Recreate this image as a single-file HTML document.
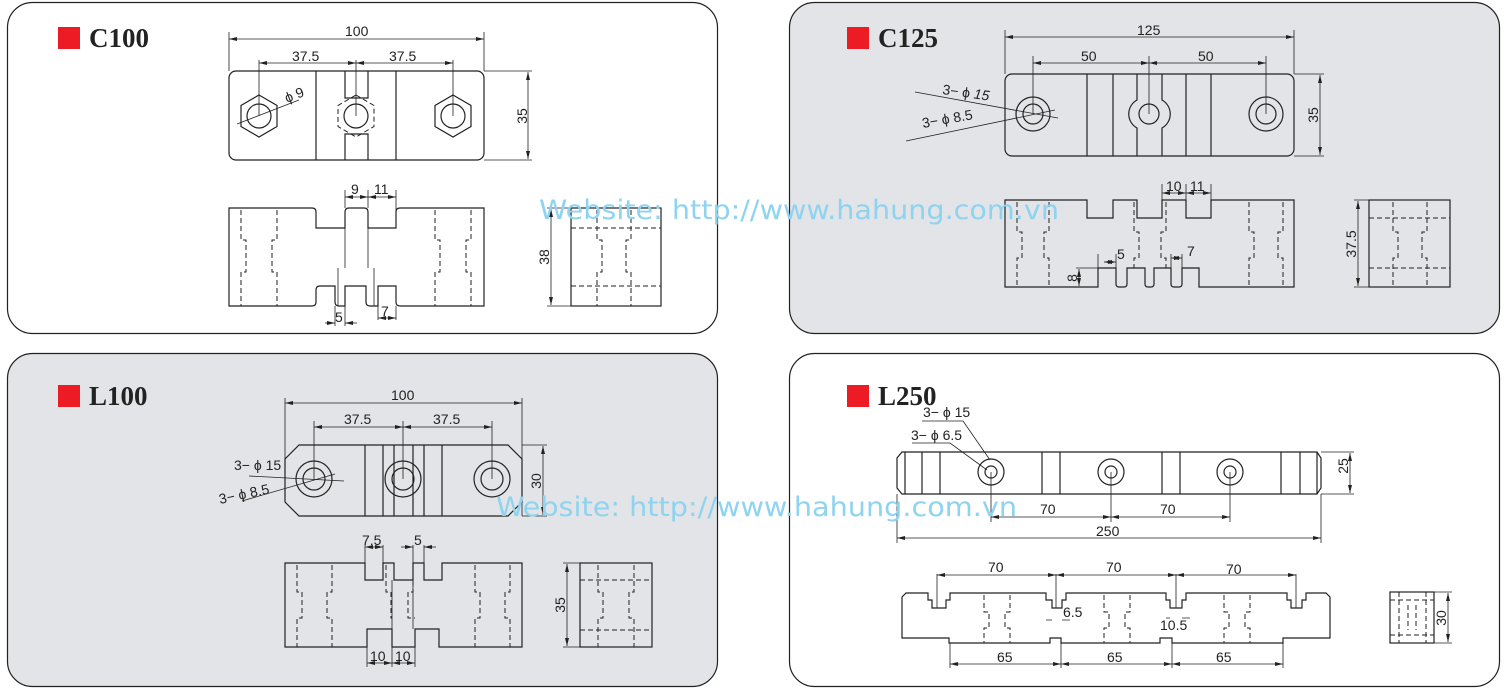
<!DOCTYPE html>
<html><head><meta charset="utf-8"><style>
html,body{margin:0;padding:0;background:#fff;}
svg{display:block;}
text{font-family:"Liberation Sans",sans-serif;font-size:14px;fill:#222;}
.t{font-family:"Liberation Serif",serif;font-weight:bold;font-size:27px;fill:#222;}
.wm{font-family:"DejaVu Sans","Liberation Sans",sans-serif;font-size:27px;fill:#8ed3ef;}
.o{fill:none;stroke:#222;stroke-width:1.2;}
.d{fill:none;stroke:#222;stroke-width:1;stroke-dasharray:5,3;}
.l{fill:none;stroke:#222;stroke-width:0.8;}
.a{fill:none;stroke:#222;stroke-width:0.8;marker-start:url(#ar);marker-end:url(#ar);}
</style></head><body>
<svg width="1505" height="697" viewBox="0 0 1505 697" xmlns="http://www.w3.org/2000/svg">
<defs><marker id="ar" viewBox="0 0 8 4" refX="8" refY="2" markerWidth="8" markerHeight="4" markerUnits="userSpaceOnUse" orient="auto-start-reverse"><path d="M0,0L8,2L0,4z" fill="#222"/></marker></defs>

<!-- panels -->
<rect x="7.5" y="2.5" width="710" height="331" rx="25" fill="#fff" stroke="#222" stroke-width="1.2"/>
<rect x="789.5" y="2.5" width="710" height="331" rx="25" fill="#e2e4e7" stroke="#222" stroke-width="1.2"/>
<rect x="7.5" y="353.5" width="710" height="333" rx="25" fill="#e2e4e7" stroke="#222" stroke-width="1.2"/>
<rect x="789.5" y="353.5" width="710" height="333" rx="25" fill="#fff" stroke="#222" stroke-width="1.2"/>

<rect x="58" y="27" width="22" height="22" fill="#ed1c24"/><text class="t" x="89" y="47">C100</text>
<rect x="847" y="27" width="22" height="22" fill="#ed1c24"/><text class="t" x="878" y="47">C125</text>
<rect x="58" y="385" width="22" height="22" fill="#ed1c24"/><text class="t" x="89" y="405">L100</text>
<rect x="847" y="385" width="22" height="22" fill="#ed1c24"/><text class="t" x="878" y="405">L250</text>

<!-- ========== C100 ========== -->
<rect class="o" x="229" y="71" width="255" height="89" rx="7"/>
<path class="o" d="M316,71V160M396,71V160M345,71V98H368V71M345,160V134H368V160"/>
<polygon class="o" points="259,95 277,105.5 277,126.5 259,137 241,126.5 241,105.5"/>
<circle class="o" cx="259" cy="116" r="12"/>
<polygon class="d" points="356,95 374,105.5 374,126.5 356,137 338,126.5 338,105.5"/>
<circle class="o" cx="356" cy="116" r="12"/>
<polygon class="o" points="453,95 471,105.5 471,126.5 453,137 435,126.5 435,105.5"/>
<circle class="o" cx="453" cy="116" r="12"/>
<path class="l" d="M229,32V71M484,32V71M259,60V116M356,60V116M453,60V116M484,71H532M484,160H532M237,124L299,100"/>
<line class="a" x1="229" y1="39" x2="484" y2="39"/>
<line class="a" x1="259" y1="63" x2="356" y2="63"/><line class="a" x1="356" y1="63" x2="453" y2="63"/>
<line class="a" x1="528" y1="72" x2="528" y2="159"/>
<text x="345" y="36">100</text><text x="292" y="61">37.5</text><text x="389" y="61">37.5</text>
<text transform="translate(527,116) rotate(-90)" text-anchor="middle">35</text>
<text transform="translate(287,103) rotate(-22)">ϕ 9</text>
<!-- front -->
<path class="o" d="M229,208H312Q316,208 316,212V228H345V212Q345,208 349,208H364Q368,208 368,212V228H396V212Q396,208 400,208H484V306H400Q396,306 396,302V286H378V306H370Q366,306 366,302V286H345V306H339Q335,306 335,302V286H320Q316,286 316,290V302Q316,306 312,306H229Z"/>
<path class="l" d="M368,212V268M345,228V268M338,268V306M374,268V306"/>
<path class="d" d="M241,210V240H246V272H241V306M277,210V240H272V272H277V306M435,210V240H440V272H435V306M471,210V240H466V272H471V306"/>
<path class="l" d="M345,190V208M368,190V208M396,190V212M335,306V326M345,306V326M378,306V320M396,306V320"/>
<line class="a" x1="345" y1="197" x2="368" y2="197"/><line class="a" x1="368" y1="197" x2="396" y2="197"/>
<line class="a" x1="325" y1="323" x2="335" y2="323" style="marker-start:none"/><line class="a" x1="345" y1="323" x2="357" y2="323" style="marker-end:none"/>
<line class="a" x1="378" y1="318" x2="396" y2="318"/>
<text x="351" y="194">9</text><text x="374" y="194">11</text><text x="335" y="322">5</text><text x="381" y="316">7</text>
<rect class="o" x="571" y="208" width="90" height="98"/>
<path class="d" d="M571,228H661M571,286H661M597,210V240H602V272H597V306M631,210V240H626V272H631V306"/>
<path class="l" d="M547,208H571M547,306H571"/>
<line class="a" x1="551" y1="209" x2="551" y2="305"/>
<text transform="translate(549,257) rotate(-90)" text-anchor="middle">38</text>

<!-- ========== C125 ========== -->
<rect class="o" x="1005" y="74" width="289" height="82" rx="7"/>
<path class="o" d="M1087,74V156M1113,74V156M1186,74V156M1211,74V156M1137,74V100A16,16 0 0 0 1137,128V156M1162,74V100A16,16 0 0 1 1162,128V156"/>
<circle class="o" cx="1033" cy="114" r="17"/><circle class="o" cx="1033" cy="114" r="10"/>
<circle class="o" cx="1149" cy="114" r="10"/>
<circle class="o" cx="1266" cy="114" r="17"/><circle class="o" cx="1266" cy="114" r="10"/>
<path class="l" d="M1005,30V74M1294,30V74M1033,56V114M1149,56V114M1266,56V114M1294,74H1324M1294,156H1324M915,92L1058,118M906,141L1055,110"/>
<line class="a" x1="1005" y1="37" x2="1294" y2="37"/>
<line class="a" x1="1033" y1="63" x2="1149" y2="63"/><line class="a" x1="1149" y1="63" x2="1266" y2="63"/>
<line class="a" x1="1320" y1="75" x2="1320" y2="155"/>
<text x="1137" y="35">125</text><text x="1081" y="61">50</text><text x="1198" y="61">50</text>
<text transform="translate(1318,115) rotate(-90)" text-anchor="middle">35</text>
<text transform="translate(942,94) rotate(8)">3− ϕ <tspan font-style="italic">15</tspan></text>
<text transform="translate(923,128) rotate(-10)">3− ϕ 8.5</text>
<!-- front -->
<path class="o" d="M1005,200H1087V218H1113V200H1137V218H1162V200H1186V218H1211V200H1294V287H1199V268H1182V284Q1182,287 1179,287H1174Q1171,287 1171,284V268H1154V284Q1154,287 1151,287H1148Q1145,287 1145,284V268H1127V284Q1127,287 1124,287H1119Q1116,287 1116,284V268H1098V287H1005Z"/>
<path class="d" d="M1017,202V232H1022V258H1017V287M1049,202V232H1044V258H1049V287M1134,202V232H1139V258H1134V268M1166,202V232H1161V258H1166V268M1249,202V232H1254V258H1249V287M1283,202V232H1278V258H1283V287"/>
<path class="l" d="M1162,184V200M1186,184V200M1211,184V200M1116,254V268M1098,254V268M1171,254V268M1182,254V268M1076,268H1098M1076,287H1098"/>
<line class="a" x1="1162" y1="193" x2="1186" y2="193"/><line class="a" x1="1186" y1="193" x2="1211" y2="193"/>
<line class="a" x1="1104" y1="262" x2="1116" y2="262"/><line class="a" x1="1171" y1="258" x2="1182" y2="258"/>
<line class="a" x1="1079" y1="269" x2="1079" y2="286"/>
<text x="1166" y="191">10</text><text x="1190" y="191">11</text><text x="1117" y="259">5</text><text x="1187" y="256">7</text>
<text transform="translate(1077,278) rotate(-90)" text-anchor="middle">8</text>
<rect class="o" x="1369" y="200" width="81" height="87"/>
<path class="d" d="M1369,218H1450M1369,268H1450M1393,202V232H1398V258H1393V287M1427,202V232H1422V258H1427V287"/>
<path class="l" d="M1354,200H1369M1354,287H1369"/>
<line class="a" x1="1358" y1="201" x2="1358" y2="286"/>
<text transform="translate(1356,244) rotate(-90)" text-anchor="middle">37.5</text>

<!-- ========== L100 ========== -->
<polygon class="o" points="299,445 508,445 522,459 522,502 508,516 299,516 285,502 285,459"/>
<path class="o" d="M365,445V516M383,445V516M394,445V516M413,445V516M424,445V516M442,445V516"/>
<circle class="o" cx="314" cy="479" r="18"/><circle class="o" cx="314" cy="479" r="11"/>
<circle class="o" cx="403" cy="479" r="18"/><circle class="o" cx="403" cy="479" r="11"/>
<circle class="o" cx="492" cy="479" r="18"/><circle class="o" cx="492" cy="479" r="11"/>
<path class="l" d="M285,398V459M522,398V516M314,421V479M403,421V479M492,421V479M522,445H547M522,516H547M249,476L344,481M242,501L335,474"/>
<line class="a" x1="285" y1="403" x2="522" y2="403"/>
<line class="a" x1="314" y1="427" x2="403" y2="427"/><line class="a" x1="403" y1="427" x2="492" y2="427"/>
<line class="a" x1="543" y1="446" x2="543" y2="515"/>
<text x="391" y="400">100</text><text x="344" y="424">37.5</text><text x="433" y="424">37.5</text>
<text transform="translate(541,481) rotate(-90)" text-anchor="middle">30</text>
<text x="234" y="470">3− ϕ 15</text>
<text transform="translate(220,504) rotate(-12)">3− ϕ 8.5</text>
<!-- front -->
<path class="o" d="M285,563H365V580H383V563H394V580H413V563H424V580H442V563H522V647H439V629H415V647H392V629H367V647H285Z"/>
<path class="d" d="M297,565V592H302V618H297V647M332,565V592H327V618H332V647M386,565V592H391V618H392M413,565V592H408V618H415M475,565V592H480V618H475V647M510,565V592H505V618H510V647"/>
<path class="l" d="M392,580V629M413,580V629M365,545V563M383,545V563M413,545V563M424,545V563M367,647V667M392,647V667M415,647V667"/>
<line class="a" x1="365" y1="547" x2="383" y2="547"/>
<line class="a" x1="401" y1="547" x2="413" y2="547" style="marker-start:none"/><line class="a" x1="424" y1="547" x2="436" y2="547" style="marker-end:none"/>
<line class="a" x1="367" y1="663" x2="392" y2="663"/><line class="a" x1="392" y1="663" x2="415" y2="663"/>
<text x="362" y="545">7.5</text><text x="414" y="545">5</text><text x="370" y="661">10</text><text x="395" y="661">10</text>
<rect class="o" x="580" y="563" width="72" height="84"/>
<path class="d" d="M580,580H652M580,630H652M598,565V592H603V618H598V647M634,565V592H629V618H634V647"/>
<path class="l" d="M563,563H580M563,647H580"/>
<line class="a" x1="567" y1="564" x2="567" y2="646"/>
<text transform="translate(565,605) rotate(-90)" text-anchor="middle">35</text>

<!-- ========== L250 ========== -->
<path class="o" d="M902,452H1317L1321,458V488L1317,494H902L897,488V458Z"/>
<path class="o" d="M905,452V494M922,452V494M940,452V494M1042,452V494M1060,452V494M1162,452V494M1180,452V494M1281,452V494M1300,452V494M1317,452V494"/>
<circle class="o" cx="991" cy="472" r="13"/><circle class="o" cx="991" cy="472" r="6"/>
<circle class="o" cx="1111" cy="472" r="13"/><circle class="o" cx="1111" cy="472" r="6"/>
<circle class="o" cx="1230" cy="472" r="13"/><circle class="o" cx="1230" cy="472" r="6"/>
<path class="l" d="M991,472V522M1111,472V522M1230,472V522M897,494V543M1321,494V543M1321,452H1354M1321,494H1354M922,421H963L990,460M912,443H950L987,470"/>
<line class="a" x1="991" y1="517" x2="1111" y2="517"/><line class="a" x1="1111" y1="517" x2="1230" y2="517"/>
<line class="a" x1="897" y1="538" x2="1321" y2="538"/>
<line class="a" x1="1350" y1="453" x2="1350" y2="493"/>
<text x="1040" y="514">70</text><text x="1160" y="514">70</text><text x="1096" y="536">250</text>
<text transform="translate(1348,466) rotate(-90)" text-anchor="middle">25</text>
<text x="923" y="417">3− ϕ 15</text><text x="911" y="440">3− ϕ 6.5</text>
<!-- front -->
<path class="o" d="M902,597L906,593H928V600H932V608H946V600H950V593H1046V600H1052V608H1062V600H1066V593H1166V600H1170V608H1182V600H1186V593H1287V600H1291V608H1302V600H1306V593H1326L1330,597V638H1283V643H1172V638H1160V643H1061V638H1050V643H949V638H902Z"/>
<path class="d" d="M984,595V612H989V628H984V643M1010,595V612H1005V628H1010V643M1104,595V612H1109V628H1104V643M1130,595V612H1125V628H1130V643M1224,595V612H1229V628H1224V643M1250,595V612H1245V628H1250V643"/>
<path class="l" d="M937,574V608M1056,574V608M1176,574V608M1296,574V608M950,643V668M1061,643V668M1172,643V668M1283,643V668M1046,620H1052M1062,620H1070M1166,618H1170M1182,618H1190"/>
<line class="a" x1="937" y1="575" x2="1056" y2="575"/><line class="a" x1="1056" y1="575" x2="1176" y2="575"/><line class="a" x1="1176" y1="575" x2="1296" y2="575"/>
<line class="a" x1="950" y1="664" x2="1061" y2="664"/><line class="a" x1="1061" y1="664" x2="1172" y2="664"/><line class="a" x1="1172" y1="664" x2="1283" y2="664"/>
<text x="988" y="572">70</text><text x="1106" y="572">70</text><text x="1226" y="574">70</text>
<text x="997" y="662">65</text><text x="1107" y="662">65</text><text x="1216" y="662">65</text>
<text x="1063" y="617">6.5</text><text x="1160" y="630">10.5</text>
<rect class="o" x="1390" y="592" width="44" height="51"/>
<path class="d" d="M1390,600H1434M1390,635H1434M1399,592V643M1426,592V643M1408,605V630M1416,605V630"/>
<path class="l" d="M1434,592H1452M1434,643H1452"/>
<line class="a" x1="1448" y1="593" x2="1448" y2="642"/>
<text transform="translate(1446,618) rotate(-90)" text-anchor="middle">30</text>

<!-- watermarks -->
<text class="wm" x="539" y="219" textLength="520" lengthAdjust="spacingAndGlyphs">Website: http://www.hahung.com.vn</text>
<text class="wm" x="496" y="516" textLength="521" lengthAdjust="spacingAndGlyphs">Website: http://www.hahung.com.vn</text>
</svg>
</body></html>
